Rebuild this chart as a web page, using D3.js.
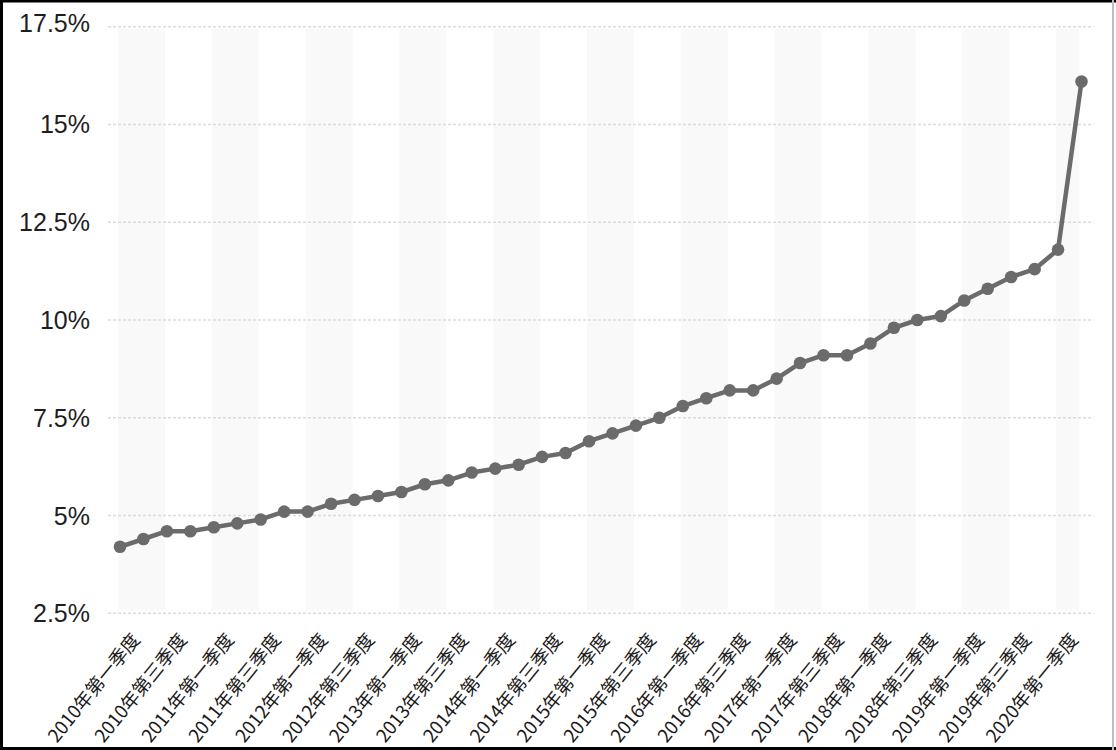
<!DOCTYPE html>
<html>
<head>
<meta charset="utf-8">
<script src="https://cdn.jsdelivr.net/npm/d3@7"></script>
<style>
  html, body { margin: 0; padding: 0; background: #fff; }
  svg { display: block; }
</style>
</head>
<body>
<svg id="chart" width="1116" height="750"></svg>
<script>
const categories = [
  "2010年第一季度","2010年第二季度","2010年第三季度","2010年第四季度",
  "2011年第一季度","2011年第二季度","2011年第三季度","2011年第四季度",
  "2012年第一季度","2012年第二季度","2012年第三季度","2012年第四季度",
  "2013年第一季度","2013年第二季度","2013年第三季度","2013年第四季度",
  "2014年第一季度","2014年第二季度","2014年第三季度","2014年第四季度",
  "2015年第一季度","2015年第二季度","2015年第三季度","2015年第四季度",
  "2016年第一季度","2016年第二季度","2016年第三季度","2016年第四季度",
  "2017年第一季度","2017年第二季度","2017年第三季度","2017年第四季度",
  "2018年第一季度","2018年第二季度","2018年第三季度","2018年第四季度",
  "2019年第一季度","2019年第二季度","2019年第三季度","2019年第四季度",
  "2020年第一季度","2020年第二季度"
];
const values = [
  4.2, 4.4, 4.6, 4.6, 4.7, 4.8, 4.9, 5.1, 5.1, 5.3, 5.4, 5.5,
  5.6, 5.8, 5.9, 6.1, 6.2, 6.3, 6.5, 6.6, 6.9, 7.1, 7.3, 7.5,
  7.8, 8.0, 8.2, 8.2, 8.5, 8.9, 9.1, 9.1, 9.4, 9.8, 10.0, 10.1,
  10.5, 10.8, 11.1, 11.3, 11.8, 16.1
];
const yTicks = [2.5, 5, 7.5, 10, 12.5, 15, 17.5];
const tickLabels = categories.filter((d, i) => i % 2 === 0);

const W = 1116, H = 750;
const svg = d3.select("#chart");

const x = d3.scalePoint().domain(categories).range([120, 1081.5]);
const y = d3.scaleLinear().domain([2.5, 17.5]).range([613.3, 26.7]);

const lineColor = "#6b6b6b";

svg.append("rect").attr("x", 0).attr("y", 0).attr("width", W).attr("height", H).attr("fill", "#fff");

// split areas (alternating bands between labelled ticks)
const bandG = svg.append("g");
tickLabels.forEach((lab, k) => {
  const x0 = x(lab);
  const next = tickLabels[k + 1];
  const x1 = next ? x(next) : x(categories[categories.length - 1]);
  if (k % 2 === 0) {
    bandG.append("rect")
      .attr("x", x0 - 2)
      .attr("y", y(17.5) + 2)
      .attr("width", x1 - x0)
      .attr("height", y(2.5) - y(17.5) - 5)
      .attr("fill", "#f9f9f9");
  }
});

// gridlines
const gridLeft = x(categories[0]) - 12, gridRight = x(categories[categories.length - 1]) + 12;
svg.append("g").selectAll("line").data(yTicks).join("line")
  .attr("x1", gridLeft).attr("x2", gridRight)
  .attr("y1", d => y(d)).attr("y2", d => y(d))
  .attr("stroke", "#dcdcdc").attr("stroke-width", 1.5)
  .attr("stroke-dasharray", "3,2");

// y axis labels
const fmt = d => (Number.isInteger(d) ? d : d.toFixed(1)) + "%";
svg.append("g").selectAll("text").data(yTicks).join("text")
  .attr("x", 90)
  .attr("y", d => y(d))
  .attr("dy", d => d === 17.5 ? "0.2em" : "0.36em")
  .attr("text-anchor", "end")
  .attr("font-family", "'Liberation Sans', Arial, sans-serif")
  .attr("font-size", 25)
  .attr("fill", "#1e1e1e")
  .text(fmt);

// x axis labels
svg.append("g").selectAll("text").data(tickLabels).join("text")
  .attr("transform", d => `translate(${x(d) + 21},${640}) rotate(-51)`)
  .attr("text-anchor", "end")
  .attr("font-family", "'Noto Sans CJK SC', 'Liberation Sans', sans-serif")
  .attr("font-size", 18.5)
  .attr("fill", "#1a1a1a")
  .text(d => d);

// line
const line = d3.line().x((d, i) => x(categories[i])).y(d => y(d));
svg.append("path")
  .datum(values)
  .attr("d", line)
  .attr("fill", "none")
  .attr("stroke", lineColor)
  .attr("stroke-width", 4.5)
  .attr("stroke-linejoin", "round");

// markers
svg.append("g").selectAll("circle").data(values).join("circle")
  .attr("cx", (d, i) => x(categories[i]))
  .attr("cy", d => y(d))
  .attr("r", 6.3)
  .attr("fill", lineColor);

// frame
svg.append("line").attr("x1", 0).attr("x2", W).attr("y1", 1).attr("y2", 1).attr("stroke", "#000").attr("stroke-width", 3);
svg.append("line").attr("x1", 1.5).attr("x2", 1.5).attr("y1", 0).attr("y2", H).attr("stroke", "#000").attr("stroke-width", 3);
svg.append("line").attr("x1", 0).attr("x2", W).attr("y1", H - 1.5).attr("y2", H - 1.5).attr("stroke", "#000").attr("stroke-width", 3);
svg.append("line").attr("x1", 1113).attr("x2", 1113).attr("y1", 0).attr("y2", H).attr("stroke", "#bdbdbd").attr("stroke-width", 2);
</script>
</body>
</html>
